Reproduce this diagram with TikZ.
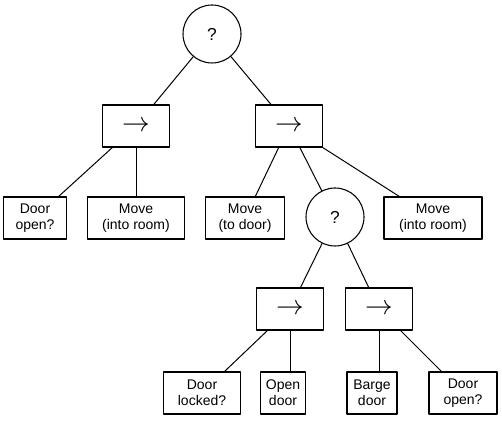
\documentclass[tikz,border=0pt]{standalone}
\usepackage{fontspec}
\setmainfont{Liberation Sans}
\usepackage{amsmath}
\usetikzlibrary{calc}
\tikzstyle{every node}=[font=\fontsize{10.5}{12}\selectfont]
\tikzstyle{leaf}=[draw,line width=0.8pt,rectangle,inner sep=0pt,minimum height=31.5pt,align=center]
\tikzstyle{seqbox}=[draw,line width=0.8pt,rectangle,inner sep=0pt,minimum width=50.5pt,minimum height=31.5pt,font=\fontsize{20}{22}\selectfont]
\tikzstyle{selnode}=[draw,line width=0.8pt,circle,inner sep=0pt,minimum size=43.5pt,font=\fontsize{13}{15}\selectfont]
\newcommand{\seqarrow}{$\rightarrow$}

\begin{document}
\begin{tikzpicture}[line cap=round,line join=round,x=0.75pt,y=0.75pt]
                    \useasboundingbox (0,0) rectangle (502,423);
                    % selectors
                    \node [selnode] (root) at (212,389) {?};
                    \node [selnode] (sel2) at (335,206) {?};
                    % sequences
                    \node [seqbox] (seq1) at (136,297) {\seqarrow};
                    \node [seqbox] (seq2) at (289,297) {\seqarrow};
                    \node [seqbox] (seq3) at (290,114) {\seqarrow};
                    \node [seqbox] (seq4) at (379,114) {\seqarrow};
                    % leaves
                    \node [leaf,minimum width=47pt] (dooropen1) at (35,205) {Door\\open?};
                    \node [leaf,minimum width=73pt] (moveroom1) at (136,205) {Move\\(into room)};
                    \node [leaf,minimum width=59pt] (movedoor) at (245,205) {Move\\(to door)};
                    \node [leaf,minimum width=73.5pt] (moveroom2) at (433,205) {Move\\(into room)};
                    \node [leaf,minimum width=58pt] (locked) at (202,30) {Door\\locked?};
                    \node [leaf,minimum width=34pt] (opendoor) at (283,30) {Open\\door};
                    \node [leaf,minimum width=37.5pt] (barge) at (372,30) {Barge\\door};
                    \node [leaf,minimum width=51pt] (dooropen2) at (463,30) {Door\\open?};
                    % edges
                    \draw [line width=0.75pt] (root) -- (seq1);
                    \draw [line width=0.75pt] (root) -- (seq2);
                    \draw [line width=0.75pt] (seq1) -- (dooropen1);
                    \draw [line width=0.75pt] (seq1) -- (moveroom1);
                    \draw [line width=0.75pt] (seq2) -- (movedoor);
                    \draw [line width=0.75pt] (seq2) -- (sel2);
                    \draw [line width=0.75pt] (seq2) -- (moveroom2);
                    \draw [line width=0.75pt] (sel2) -- (seq3);
                    \draw [line width=0.75pt] (sel2) -- (seq4);
                    \draw [line width=0.75pt] (seq3) -- (locked);
                    \draw [line width=0.75pt] (seq3.south) -- (seq3.south |- opendoor.north);
                    \draw [line width=0.75pt] (seq4.south) -- (seq4.south |- barge.north);
                    \draw [line width=0.75pt] (seq4) -- (dooropen2);
                    \end{tikzpicture}
\end{document}
